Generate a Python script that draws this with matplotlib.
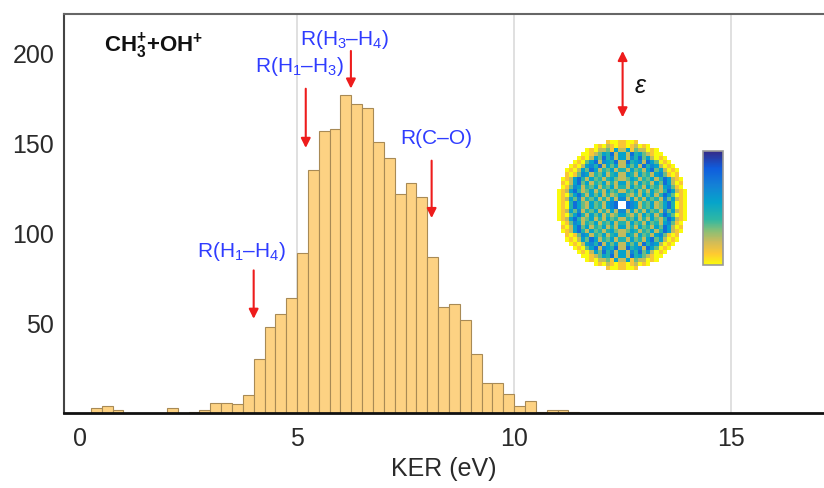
import numpy as np
import matplotlib
matplotlib.use("Agg")
import matplotlib.pyplot as plt
from matplotlib.colors import LinearSegmentedColormap

plt.rcParams['font.family'] = ['Liberation Sans', 'DejaVu Sans']
plt.rcParams['mathtext.fontset'] = 'custom'
plt.rcParams['mathtext.rm'] = 'Liberation Sans'
plt.rcParams['mathtext.it'] = 'Liberation Sans:italic'
plt.rcParams['mathtext.bf'] = 'Liberation Sans:bold'

# KER histogram, 0.25 eV bins (left edges) and counts
bin_width = 0.25
ker_left = [0.25, 0.5, 0.75, 2.0, 2.5, 2.75, 3.0, 3.25, 3.5, 3.75,
            4.0, 4.25, 4.5, 4.75, 5.0, 5.25, 5.5, 5.75, 6.0, 6.25,
            6.5, 6.75, 7.0, 7.25, 7.5, 7.75, 8.0, 8.25, 8.5, 8.75,
            9.0, 9.25, 9.5, 9.75, 10.0, 10.25, 10.5, 10.75, 11.0, 11.25]
counts = [3, 4, 2, 3, 1, 2, 6, 6, 5, 10,
          30, 48, 55, 64, 89, 135, 157, 158, 177, 172,
          170, 151, 142, 122, 128, 120, 87, 59, 61, 52,
          33, 17, 17, 11, 4, 7, 1, 2, 2, 1]

x_ticks = [0, 5, 10, 15]
y_ticks = [50, 100, 150, 200]
grid_x = [5, 10, 15]

# bond-length markers: label, arrow x, arrow top, arrow tip, label x, label y
markers = [
    (r"R(H$_1$–H$_4$)", 4.0, 81, 51, 3.73, 90),
    (r"R(H$_1$–H$_3$)", 5.2, 182, 146, 5.05, 193),
    (r"R(H$_3$–H$_4$)", 6.24, 203, 179, 6.09, 208),
    (r"R(C–O)", 8.1, 142, 107, 8.21, 153),
]

# momentum image, top-left quadrant (0 = low/yellow, 9 = high/blue, '.' = empty)
quadrant_rows = [
    "............1001",
    ".........0102101",
    ".......010223152",
    "......0012354725",
    ".....01025374625",
    "....010357265472",
    "...0102564725352",
    "..01025375243524",
    "..10136524352452",
    ".012574253424532",
    ".102573524352425",
    ".013652435243524",
    "0125742352425342",
    "0103574253524235",
    "0125362435242526",
    "010475325342567.",
]

quad = np.array([[np.nan if ch == '.' else float(ch) for ch in row] for row in quadrant_rows])
top = np.hstack([quad, quad[:, ::-1]])
img = np.vstack([top, top[::-1, :]])

parula = LinearSegmentedColormap.from_list("parula", [
    (0.00, "#352A87"), (0.15, "#0F5CDD"), (0.30, "#1481D6"), (0.45, "#06A4CA"),
    (0.60, "#2EB7A4"), (0.70, "#87BF77"), (0.80, "#D1BB59"), (0.90, "#FEC832"),
    (1.00, "#F9FB0E")])
parula_r = parula.reversed()

W, H = 824, 488
fig = plt.figure(figsize=(W / 100, H / 100), dpi=100)
ax = fig.add_axes([64 / W, (H - 413.3) / H, 1 - 64 / W, (413.3 - 14) / H])

for gx in grid_x:
    ax.axvline(gx, color="#DADADA", lw=1.2, zorder=0)

ax.bar(ker_left, counts, width=bin_width, align="edge",
       facecolor="#FDD283", edgecolor="#A88A55", linewidth=0.8, zorder=2)

ax.set_xlim(-0.37, 17.14)
ax.set_ylim(0, 222)
ax.set_xticks(x_ticks)
ax.set_yticks(y_ticks)
ax.tick_params(axis="both", length=0, labelsize=18, colors="#2A2A2A")
ax.tick_params(axis="x", pad=10)
ax.tick_params(axis="y", pad=7)
ax.set_xlabel("KER (eV)", fontsize=18, color="#2A2A2A", labelpad=4)

ax.spines["right"].set_visible(False)
ax.spines["top"].set_color("#666666")
ax.spines["top"].set_linewidth(1.5)
ax.spines["left"].set_color("#444444")
ax.spines["left"].set_linewidth(1.5)
ax.spines["bottom"].set_color("#111111")
ax.spines["bottom"].set_linewidth(2)

ax.text(1.7, 204, r"CH$_\mathbf{3}^\mathbf{+}$+OH$^\mathbf{+}$", fontsize=16,
        fontweight="bold", ha="center", va="center", color="#111111")

red = "#EE1C1C"
blue = "#2F3CFF"
for label, xa, ytop, ytip, xl, yl in markers:
    ax.annotate("", xy=(xa, ytip), xytext=(xa, ytop),
                arrowprops=dict(arrowstyle="-|>", color=red, lw=1.5, mutation_scale=14),
                zorder=4)
    ax.text(xl, yl, label, fontsize=15, color=blue, ha="center", va="center", zorder=4)

# polarisation arrow
ax.annotate("", xy=(12.5, 203), xytext=(12.5, 163),
            arrowprops=dict(arrowstyle="<|-|>", color=red, lw=1.5, mutation_scale=14))
ax.text(12.9, 182, "ε", fontsize=18, style="italic", ha="center", va="center", color="#111111")

# inset image and colour bar
iax = fig.add_axes([557 / W, (H - 270) / H, 130 / W, 130 / H])
im = iax.imshow(img, cmap=parula_r, vmin=0, vmax=9, interpolation="nearest")
iax.axis("off")

cax = fig.add_axes([703 / W, (H - 265) / H, 20 / W, 114 / H])
cb = fig.colorbar(im, cax=cax)
cb.set_ticks([])
cb.outline.set_edgecolor("#999999")
cb.outline.set_linewidth(1.2)

fig.savefig("out.png", dpi=100)
